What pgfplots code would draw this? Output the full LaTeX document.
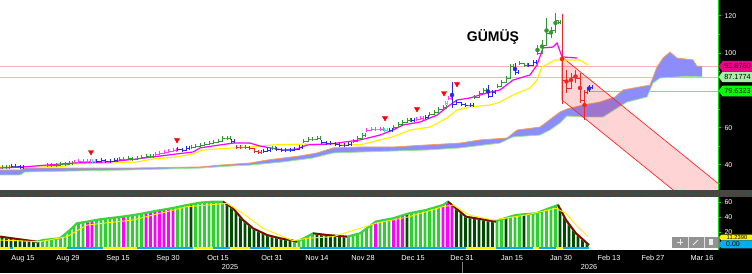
\documentclass[border=0pt]{standalone}
\usepackage{fontspec}
\setmainfont{Liberation Sans}
\usepackage{pgfplots}
\pgfplotsset{compat=1.18}
\definecolor{axgreen}{RGB}{0,220,0}
\definecolor{pgreen}{RGB}{50,150,50}
\definecolor{pblue}{RGB}{40,40,230}
\definecolor{pred}{RGB}{235,40,40}
\definecolor{pmag}{RGB}{255,60,255}
\definecolor{pcyan}{RGB}{60,225,225}
\definecolor{mamag}{RGB}{255,0,255}
\definecolor{mayel}{RGB}{255,240,0}
\definecolor{cloudfill}{RGB}{140,140,250}
\definecolor{cloudtop}{RGB}{240,160,90}
\definecolor{cloudbot}{RGB}{150,230,150}
\definecolor{hpink}{RGB}{255,175,175}
\definecolor{horange}{RGB}{250,170,80}
\definecolor{lgreen}{RGB}{50,205,50}
\definecolor{tgreen}{RGB}{60,210,60}
\definecolor{dgreen}{RGB}{0,75,0}
\definecolor{dred}{RGB}{140,0,0}
\definecolor{sepgray}{RGB}{70,70,70}
\definecolor{sepred}{RGB}{170,30,30}
\definecolor{boxlg}{RGB}{170,235,170}
\definecolor{boxg}{RGB}{0,255,0}
\pgfplotsset{pb/.style={const plot, line width=0.7pt, mark=none,
  error bars/y dir=both, error bars/y fixed=1.0, error bars/error mark=none,
  error bars/error bar style={line width=0.7pt}},
  bb/.style={only marks, mark=none, error bars/y dir=both, error bars/y explicit,
  error bars/error mark=none, error bars/error bar style={line width=0.8pt}},
  hb/.style={ybar, bar width=2.6, bar shift=0pt, draw=none}}
\newcommand\pricebox[4]{%
  \fill[#2] (718.5,#1) -- (722.5,#1+5.3) -- (752,#1+5.3) -- (752,#1-5.3) -- (722.5,#1-5.3) -- cycle;
  \node[#3, font=\fontsize{7.3}{8}\selectfont] at (737.5,#1) {#4};}
\begin{document}
\begin{tikzpicture}[x=1pt,y=1pt]
\fill[black] (0,0) rectangle (752,273);
\fill[white] (0,83) rectangle (718,273);
\fill[white] (0,23) rectangle (718,76);
\fill[sepgray] (0,76) rectangle (752,83);
\draw[sepred, dash pattern=on 4pt off 3pt, line width=0.8pt] (0,79.5) -- (752,79.5);

% ---------------- price panel ----------------
\begin{axis}[at={(0pt,83pt)}, anchor=south west, scale only axis, width=718pt, height=190pt,
  xmin=0, xmax=718, ymin=26.54, ymax=128.42, axis line style={draw=none},
  xtick=\empty, ytick={40,60,100,120}, minor ytick={30,50,70,80,90,110},
  ytick pos=right, yticklabel pos=right, tick align=outside,
  major tick length=3pt, minor tick length=1.5pt,
  y tick style={axgreen, line width=0.8pt},
  yticklabel style={white, font=\fontsize{7}{8}\selectfont},
  /pgf/number format/assume math mode=true, clip mode=individual]
% horizontal levels
\addplot[hpink, line width=0.8pt] coordinates {(0,92.876) (718,92.876)};
\addplot[hpink, line width=0.8pt] coordinates {(0,87.1774) (718,87.1774)};
\addplot[horange, line width=0.8pt] coordinates {(590,79.6323) (718,79.6323)};
% cloud
\addplot[fill=cloudfill, draw=none] coordinates {
(0,37.3)(20,37.3)(25,38.3)(60,38.3)(130,38.3)(200,38.9)(220,39.9)(250,41.0)(267,42.6)(283,43.7)
(300,44.8)(317,46.4)(333,49.1)(360,49.6)(393,49.6)(427,50.7)(460,51.7)(480,53.4)(507,54.4)(517,58.7)
(540,60.3)(560,68.4)(567,70.0)(583,72.1)(600,73.7)(615,76.4)(623,80.2)(650,82.8)(657,92.5)(663,97.3)
(670,100.5)(677,97.3)(693,96.3)(697,92.9)(702,92.9)
(702,87.2)(687,87.5)(660,86.6)(653,83.9)(647,76.4)(627,73.7)(617,70.5)(603,65.7)(583,65.7)(567,66.2)
(560,62.5)(550,58.7)(540,56.0)(513,55.0)(500,51.7)(460,49.1)(427,48.0)(360,46.9)(333,46.4)(313,43.7)
(283,41.6)(250,39.9)(230,39.4)(200,38.3)(130,37.3)(70,36.7)(25,36.2)(20,34.6)(0,34.6)} -- cycle;
\addplot[cloudtop, line width=0.8pt] coordinates {
(0,37.3)(20,37.3)(25,38.3)(60,38.3)(130,38.3)(200,38.9)(220,39.9)(250,41.0)(267,42.6)(283,43.7)
(300,44.8)(317,46.4)(333,49.1)(360,49.6)(393,49.6)(427,50.7)(460,51.7)(480,53.4)(507,54.4)(517,58.7)
(540,60.3)(560,68.4)(567,70.0)(583,72.1)(600,73.7)(615,76.4)(623,80.2)(650,82.8)(657,92.5)(663,97.3)
(670,100.5)(677,97.3)(693,96.3)(697,92.9)(702,92.9)};
\addplot[cloudbot, line width=0.8pt] coordinates {
(0,34.6)(20,34.6)(25,36.2)(70,36.7)(130,37.3)(200,38.3)(230,39.4)(250,39.9)(283,41.6)(313,43.7)
(333,46.4)(360,46.9)(427,48.0)(460,49.1)(500,51.7)(513,55.0)(540,56.0)(550,58.7)(560,62.5)(567,66.2)
(583,65.7)(603,65.7)(617,70.5)(627,73.7)(647,76.4)(653,83.9)(660,86.6)(687,87.5)(702,87.2)};
% regression channel
\addplot[draw=none, fill=red, fill opacity=0.17] coordinates {(562,97.86) (718,30.11) (718,7.05) (562,74.8)} -- cycle;
\addplot[red!85!white, line width=0.7pt] coordinates {(562,74.8) (562,97.86) (718,30.11)};
\addplot[red!85!white, line width=0.7pt] coordinates {(562,74.8) (718,7.05)};
% moving averages
\addplot[mayel, line width=1.2pt] coordinates {
(0,38.9)(43,38.9)(67,39.4)(70,40.5)(110,41.0)(137,41.6)(153,43.2)(177,44.3)(193,45.9)(203,48.0)
(233,49.1)(250,49.6)(273,50.7)(307,51.2)(340,51.2)(360,50.7)(380,53.4)(393,55.0)(410,58.7)(430,60.3)
(447,65.1)(457,69.4)(470,71.1)(490,72.1)(500,73.7)(513,77.5)(530,81.2)(537,85.5)(542,92.5)(555,96.2)
(580,96.2)(588,93.6)};
\addplot[mamag, line width=1.2pt] coordinates {
(0,38.3)(23,38.9)(73,41.0)(110,41.6)(137,43.2)(153,44.3)(177,45.9)(193,46.9)(200,49.1)(220,50.7)
(233,51.7)(250,51.7)(260,50.1)(277,48.5)(283,48.0)(297,48.5)(307,50.7)(330,51.2)(360,53.4)(380,56.0)
(393,58.7)(403,61.4)(420,63.0)(437,66.7)(447,71.0)(457,74.8)(470,75.9)(487,78.6)(500,80.2)(513,85.5)
(530,88.2)(537,93.6)(543,102.7)(553,103.2)(557,105.4)(562,97.9)(577,97.3)};
% price bars
\addplot[pgreen, pb] coordinates {(2,38.87)(6.5,38.87)(9.5,38.87)};
\addplot[pblue, pb] coordinates {(11,39.41)(15.5,39.41)(20,38.87)(23,38.87)};
\addplot[pgreen, pb] coordinates {(47,39.95)(51.5,39.95)(56,39.95)(60.5,40.48)(65,40.48)(69.5,41.02)(72.5,41.02)};
\addplot[pmag, pb] coordinates {(74,41.56)(78.5,42.09)(83,42.09)(87.5,42.09)(90.5,42.09)};
\addplot[pcyan, pb] coordinates {(92,42.09)(95,42.09)};
\addplot[pblue, pb] coordinates {(96.5,42.09)(101,42.63)(105.5,42.09)(110,42.09)(114.5,42.63)(117.5,42.63)};
\addplot[pgreen, pb] coordinates {(119,43.16)(123.5,43.16)(128,43.70)(132.5,43.16)(137,43.70)(141.5,44.24)(146,44.77)(150.5,44.77)(153.5,44.77)};
\addplot[pmag, pb] coordinates {(155,45.85)(159.5,46.38)(164,46.92)(168.5,47.45)(173,47.99)(176,47.99)};
\addplot[pblue, pb] coordinates {(177.5,48.53)(182,47.99)(186.5,49.06)(189.5,49.06)};
\addplot[pgreen, pb] coordinates {(191,49.60)(195.5,50.13)(200,50.67)(204.5,51.21)(209,51.74)(213.5,52.28)(218,52.82)(222.5,54.42)(227,54.42)(230,54.42)};
\addplot[pblue, pb] coordinates {(231.5,52.82)(234.5,52.82)};
\addplot[pred, pb] coordinates {(236,49.60)(240.5,49.60)(245,49.60)(249.5,49.06)(254,47.45)(258.5,46.92)(261.5,46.92)};
\addplot[pblue, pb] coordinates {(263,47.45)(267.5,47.99)(270.5,47.99)};
\addplot[pgreen, pb] coordinates {(272,49.06)(275,49.06)};
\addplot[pblue, pb] coordinates {(276.5,48.53)(281,47.99)(285.5,47.99)(290,47.99)(294.5,48.53)(299,49.60)(302,49.60)};
\addplot[pgreen, pb] coordinates {(303.5,52.82)(308,53.89)(312.5,53.89)(317,54.42)(320,54.42)};
\addplot[pblue, pb] coordinates {(321.5,52.28)(326,51.74)(330.5,51.74)(335,51.21)(339.5,50.67)(344,50.67)(348.5,51.21)(351.5,51.21)};
\addplot[pgreen, pb] coordinates {(353,52.82)(357.5,54.42)(362,56.03)(365,56.03)};
\addplot[pmag, pb] coordinates {(366.5,58.71)(371,59.25)(375.5,59.25)(380,59.25)(383,59.25)};
\addplot[pcyan, pb] coordinates {(384.5,58.71)(387.5,58.71)};
\addplot[pblue, pb] coordinates {(389,58.71)(392,58.71)};
\addplot[pgreen, pb] coordinates {(393.5,60.33)(398,61.93)(402.5,63.0)(407,64.08)(410,64.08)};
\addplot[pblue, pb] coordinates {(411.5,64.08)(414.5,64.08)};
\addplot[pmag, pb] coordinates {(416,64.61)(420.5,65.15)(423.5,65.15)};
\addplot[pblue, pb] coordinates {(425,65.69)(428,65.69)};
\addplot[pgreen, pb] coordinates {(429.5,67.29)(434,68.37)(438.5,69.98)(443,71.05)(446,71.05)};
\addplot[pcyan, pb] coordinates {(445.5,73.19)(447.5,73.19)};
\addplot[pmag, pb] coordinates {(448.5,75.87)(451,75.87)};
\addplot[pblue, pb] coordinates {(452,72.66)(456.5,73.73)(461,72.66)(465.5,72.12)(470,72.12)(473,72.12)};
\addplot[pgreen, pb] coordinates {(474.5,76.41)(479,78.55)(483.5,80.16)(486.5,80.16)};
\addplot[pblue, pb] coordinates {(488,76.94)(492.5,79.09)(495.5,79.09)};
\addplot[pgreen, pb] coordinates {(497,82.31)(501.5,84.45)(506,86.60)(510.5,93.03)(513.5,93.03)};
\addplot[pblue, pb] coordinates {(515,89.81)(518,89.81)};
\addplot[pgreen, pb] coordinates {(519.5,94.64)(524,93.57)(527,93.57)};
\addplot[pblue, pb] coordinates {(528.5,93.57)(533,95.18)(536,95.18)};
\addplot[pgreen, pb] coordinates {(537.5,100.0)(542,104.29)(546.5,110.73)(551,112.33)(555.5,117.7)(558,116.62)(560.5,116.62)};
\addplot[pred, pb] coordinates {(562,85.5)(566.5,81.24)(571,87.13)(575.5,86.6)(580,74.8)(584.5,79.09)(587.5,79.09)};
\addplot[pblue, pb] coordinates {(589,81.77)(592,81.77)};
% long high-low ranges
\addplot[pblue, bb] coordinates {(452,77.48) +- (0,6.97) (488,79.36) +- (0,3.49) (515,91.42) +- (0,3.22) (589,80.97) +- (0,1.88)};
\addplot[pgreen, bb] coordinates {(537.5,101.6) +- (0,2.7) (542,103.5) +- (0,3.5) (546.5,112.06) +- (0,6.71) (551,111) +- (0,3) (555.5,116.09) +- (0,5.36)};
\addplot[pred, bb] coordinates {(562,96.79) +- (0,23.99) (566.5,84.72) +- (0,6.17) (571,85.53) +- (0,3.76) (575.5,87.41) +- (0,3.49) (580,81.24) +- (0,8.05) (584.5,72.12) +- (0,8.04)};
% signal triangles
\addplot[only marks, mark=triangle*, mark size=3pt, mark options={rotate=180, fill=red, draw=red}] coordinates {
(91,46.9) (177,53.35) (385,65.15) (417,69.98) (444,78.55) (457,83.4)};
\end{axis}

% ---------------- indicator panel ----------------
\begin{axis}[at={(0pt,23pt)}, anchor=south west, scale only axis, width=718pt, height=53pt,
  xmin=0, xmax=718, ymin=-4, ymax=66.7, axis line style={draw=none},
  ytick={20,40,60}, ytick pos=right, yticklabel pos=right, tick align=outside,
  major tick length=3pt, y tick style={axgreen, line width=0.8pt},
  yticklabel style={white, font=\fontsize{7}{8}\selectfont},
  xtick={23,68,118,168,218,272,317,363,413,462,512,561,609,653,702},
  xticklabels={Aug 15,Aug 29,Sep 15,Sep 30,Oct 15,Oct 31,Nov 14,Nov 28,Dec 15,Dec 31,Jan 15,Jan 30,Feb 13,Feb 27,Mar 16},
  xtick pos=bottom, x tick style={draw=none},
  xticklabel style={white, font=\fontsize{7.3}{8}\selectfont, yshift=1pt},
  extra x ticks={230,589}, extra x tick labels={2025,2026},
  extra x tick style={xticklabel style={yshift=-8.5pt}},
  /pgf/number format/assume math mode=true, unbounded coords=jump, clip mode=individual]
\addplot[hb, fill=lgreen] coordinates {
(42.5,9.1)(47,9.8)(51.5,10.4)(56,11)(60.5,12.2)(65,17)(69.5,22)(74,27.8)(78.5,32)(83,33)
(96.5,36)(101,37)(105.5,37.8)(110,38.5)(114.5,39.2)(119,39.9)(128,41.5)(132.5,42.5)(137,43.4)(141.5,44.4)
(177.5,53.3)(182,54.6)(186.5,55.9)(195.5,58)(200,59.1)(204.5,59.5)(209,60)(213.5,60.4)(218,60.4)(222.5,60.4)
(294.5,7.9)(299,8.4)(303.5,11.5)(308,14.5)(312.5,17.8)(348.5,14.3)(353,15.8)(357.5,17.4)(362,20)(366.5,24.5)
(371,28.9)(380,34.8)(384.5,35.9)(389,37.1)(411.5,45.5)(416,46.6)(420.5,47.8)(425,49)(429.5,50.8)(434,52.5)
(438.5,54.3)(497,34.6)(501.5,37.5)(510.5,40.5)(515,42.2)(519.5,43)(528.5,44)(533,44.5)(537.5,45.6)(542,48)
(546.5,50.5)(551,53)(555.5,54.8)};
\addplot[hb, fill=dgreen] coordinates {
(2,13.4)(6.5,12.6)(11,11.8)(15.5,11)(20,10.2)(24.5,9.4)(29,8.6)(33.5,7.8)(38,7.3)(191,57)
(227,58)(231.5,53)(236,47)(240.5,40)(245,34)(249.5,28.8)(254,24.3)(258.5,21.4)(263,18.5)(267.5,15.8)
(272,14.2)(276.5,12.8)(281,11.4)(285.5,10.3)(290,9.3)(317,17.5)(321.5,16.9)(326,16.2)(330.5,15.6)(335,15.1)
(339.5,14.6)(344,14.1)(407,44)(456.5,51)(461,46)(465.5,41)(470,39.7)(474.5,38.5)(479,37.5)(483.5,36.5)
(488,35.5)(492.5,34.6)(506,39)(524,43.5)(560,51.5)(564.5,40)(569,30.6)(573.5,22.5)(578,15)(582.5,9.4)(587,4.5)};
\addplot[hb, fill=mamag] coordinates {
(87.5,33.9)(92,34.9)(123.5,40.7)(146,45.5)(150.5,46.7)(155,47.9)(159.5,49)(164,50)(168.5,51)(173,52)
(375.5,33.4)(393.5,38.4)(398,40.1)(402.5,42.1)(443,56)(447.5,60)(452,56)};
% baseline state strip
\addplot[mayel, line width=2pt] coordinates {(0,-1.2)(10,-1.2)(10,nan)(13,-1.2)(67,-1.2)(67,nan)(103,-1.2)(137,-1.2)(137,nan)
(193,-1.2)(213,-1.2)(213,nan)(230,-1.2)(250,-1.2)(250,nan)(270,-1.2)(300,-1.2)(300,nan)(466,-1.2)(496,-1.2)(496,nan)
(533,-1.2)(539,-1.2)(539,nan)(556,-1.2)(563,-1.2)};
\addplot[cyan, line width=2pt] coordinates {(10,-1.2)(13,-1.2)(13,nan)(67,-1.2)(103,-1.2)(103,nan)(137,-1.2)(193,-1.2)(193,nan)
(213,-1.2)(230,-1.2)(230,nan)(250,-1.2)(270,-1.2)(270,nan)(300,-1.2)(466,-1.2)(466,nan)(496,-1.2)(533,-1.2)(533,nan)
(539,-1.2)(556,-1.2)(556,nan)(563,-1.2)(589,-1.2)};
% indicator lines
\addplot[tgreen, line width=2.2pt] coordinates {
(0,13.8)(37,7.1)(43,9.3)(60,11.6)(70,22.7)(77,31.6)(87,33.8)(100,36.9)(117,39.6)(127,41.3)(140,44)(157,48.4)
(173,52)(187,56)(200,59.1)(213,60.4)(223,60.4)(233,51.6)(243,36)(253,24.9)(267,16)(280,11.6)(290,9.3)(297,7.1)
(307,13.8)(313,18.2)(327,16)(347,13.8)(360,18.2)(376,34)(393,38.2)(409,44.9)(426,49.3)(443,56)(448,60.4)
(456,51.6)(466,40.4)(476,38.2)(486,36)(496,33.8)(499,36)(516,42.7)(536,44.9)(549,51.6)(558,56)(566,36)(576,18.2)(589,2.7)};
\addplot[dred, line width=1.8pt] coordinates {(0,13.8)(37,7.1)(37,nan)
(223,60.4)(233,51.6)(243,36)(253,24.9)(267,16)(280,11.6)(290,9.3)(297,7.1)(297,nan)
(313,18.2)(327,16)(347,13.8)(347,nan)
(448,60.4)(456,51.6)(466,40.4)(476,38.2)(486,36)(496,33.8)(496,nan)
(558,56)(566,36)(576,18.2)(589,2.7)};
\addplot[mayel, line width=0.9pt] coordinates {
(0,9.3)(40,7.1)(67,13.8)(87,29.3)(133,36)(187,53.8)(227,58.2)(243,44.9)(263,24.9)(283,13.8)(293,8.4)(307,11.6)
(333,13.8)(376,31.6)(409,40.4)(443,53.8)(453,56)(469,42.7)(493,36)(526,42.7)(556,51.6)(566,44.9)(576,29.3)(588,13.8)};
\end{axis}

% axis lines and right-hand labels
\draw[axgreen, line width=0.8pt] (718,83) -- (718,273);
\draw[axgreen, line width=0.8pt] (718,23) -- (718,76);
\draw[gray, line width=0.6pt] (462,0) -- (462,11);
\node[anchor=base, font=\bfseries\fontsize{14}{14}\selectfont] at (493,231) {GÜMÜŞ};
\pricebox{182}{boxg}{black}{79.6323}
\pricebox{196.1}{boxlg}{black}{87.1774}
\pricebox{206.7}{magenta}{black}{92.8760}
\fill[yellow] (718.5,35.5) -- (721.5,38.3) -- (752,38.3) -- (752,32.6) -- (721.5,32.6) -- cycle;
\node[black, font=\fontsize{5.8}{6}\selectfont] at (737,35.4) {11.2390};
\fill[cyan] (718.5,28.5) -- (721.5,32.5) -- (752,32.5) -- (752,24.5) -- (721.5,24.5) -- cycle;
\node[black, font=\fontsize{7}{8}\selectfont] at (733,28.5) {0.00};
% chart toolbar overlay
\fill[gray, opacity=0.85] (672,25) rectangle (720,36);
\draw[white!75!gray, line width=0.4pt] (688,25) -- (688,36) (704,25) -- (704,36);
\draw[white!85!gray, line width=1pt] (677,30.5) -- (683,30.5) (680,27.5) -- (680,33.5);
\draw[white!85!gray, line width=0.9pt] (693,28) -- (698,33);
\fill[white!85!gray] (709,28) rectangle (713,33.5);
\pgfresetboundingbox
\path[use as bounding box] (0,0) rectangle (752,273);
\end{tikzpicture}
\end{document}
